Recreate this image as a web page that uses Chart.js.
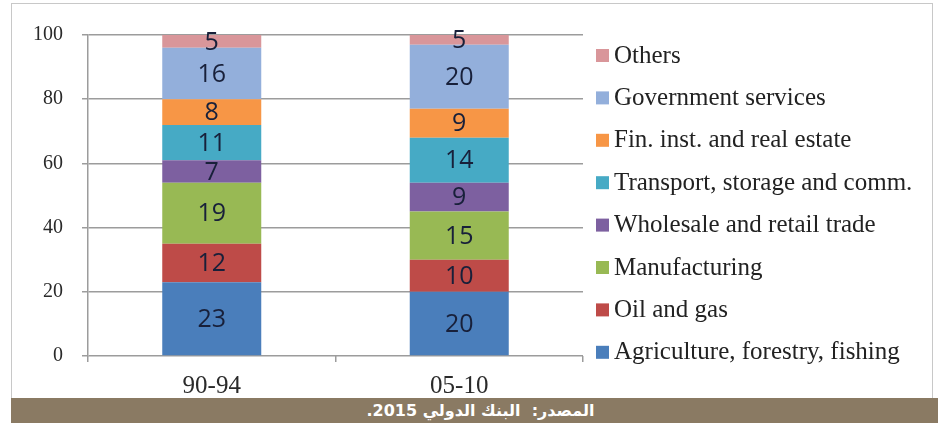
<!DOCTYPE html>
<html>
<head>
<meta charset="utf-8">
<script src="https://cdn.jsdelivr.net/npm/chart.js@4.4.1/dist/chart.umd.min.js"></script>
<style>
body{margin:0;background:#fff;width:938px;height:423px;position:relative;overflow:hidden}
#box{position:absolute;left:11px;top:3px;width:920px;height:394px;border:1px solid #c8c8c8;border-bottom:none}
#foot{position:absolute;left:11px;top:398px;width:915px;padding-left:12px;height:25px;background:#8a7a63;color:#fff;
  font:bold 16px "DejaVu Sans",sans-serif;text-align:center;line-height:25px;white-space:pre;direction:rtl}
</style>
</head>
<body>
<div id="box"><canvas id="chart" width="920" height="394"></canvas></div>
<div id="foot">المصدر:  البنك الدولي 2015.</div>
<script>
const periods=['90-94','05-10']
const sectors=['Agriculture, forestry, fishing','Oil and gas','Manufacturing','Wholesale and retail trade',
  'Transport, storage and comm.','Fin. inst. and real estate','Government services','Others']
const agriculture=[23,20]
const oilGas=[12,10]
const manufacturing=[19,15]
const wholesale=[7,9]
const transport=[11,14]
const finance=[8,9]
const government=[16,20]
const others=[5,5]
const yTicks=[0,20,40,60,80,100]

const colors=['#4a7ebb','#be4b48','#98b954','#7d60a0','#46aac5','#f79646','#93afdb','#d9969a']
const values=[agriculture,oilGas,manufacturing,wholesale,transport,finance,government,others]

const serif='"Liberation Serif","Times New Roman",serif'

// numbers inside the segments
const segLabels={
  id:'segLabels',
  afterDatasetsDraw(chart){
    const ctx=chart.ctx
    const area=chart.chartArea
    ctx.save()
    ctx.font='25px "Open Sans",sans-serif'
    ctx.fillStyle='#18203a'
    ctx.textAlign='center'
    ctx.textBaseline='middle'
    chart.data.datasets.forEach((ds,i)=>{
      chart.getDatasetMeta(i).data.forEach((bar,j)=>{
        let top=Math.max(bar.y,area.top)
        let y=(top+bar.base)/2
        ctx.fillText(ds.data[j],bar.x,y+1)
      })
    })
    ctx.restore()
  }
}

// legend on the right, top item = last series
const sideLegend={
  id:'sideLegend',
  afterDraw(chart){
    const ctx=chart.ctx
    ctx.save()
    ctx.font='25px '+serif
    ctx.textBaseline='middle'
    ctx.textAlign='left'
    for(let k=0;k<sectors.length;k++){
      let i=sectors.length-1-k
      let y=51+k*42.4
      ctx.fillStyle=colors[i]
      ctx.fillRect(584,y-6,13,13)
      ctx.fillStyle='#222'
      ctx.fillText(sectors[i],602,y+1)
    }
    ctx.restore()
  }
}

new Chart(document.getElementById('chart'),{
  type:'bar',
  data:{
    labels:periods,
    datasets:sectors.map((s,i)=>({
      label:s,
      data:values[i],
      backgroundColor:colors[i],
      barPercentage:0.4,
      categoryPercentage:1
    }))
  },
  options:{
    responsive:false,
    animation:false,
    layout:{padding:{top:29,right:349,left:0,bottom:0}},
    plugins:{legend:{display:false},tooltip:{enabled:false}},
    scales:{
      x:{
        stacked:true,
        grid:{drawOnChartArea:false,tickLength:6,color:'#9c9c9c',lineWidth:1.5},
        border:{display:false},
        ticks:{font:{family:serif,size:25},color:'#2a2a2a',padding:9},
        afterFit(s){s.height=42}
      },
      y:{
        stacked:true,
        min:0,max:100,
        afterBuildTicks(s){s.ticks=yTicks.map(v=>({value:v}))},
        grid:{color:'#9c9c9c',lineWidth:1.5,tickLength:6},
        border:{color:'#9c9c9c',width:1.5},
        ticks:{font:{family:serif,size:20},color:'#2a2a2a',padding:19},
        afterFit(s){s.width=76}
      }
    }
  },
  plugins:[segLabels,sideLegend]
})
</script>
</body>
</html>
